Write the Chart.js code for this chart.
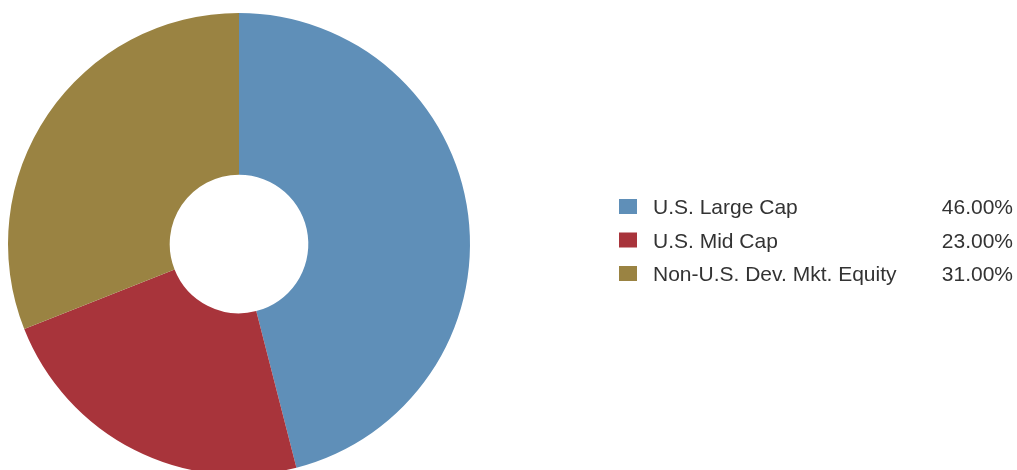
<!DOCTYPE html>
<html>
<head>
<meta charset="utf-8">
<script src="https://cdn.jsdelivr.net/npm/chart.js@4"></script>
<style>
  html, body { margin: 0; padding: 0; background: #fff; overflow: hidden; }
  #wrap { position: relative; width: 1017px; height: 480px; }
</style>
</head>
<body>
<div id="wrap"><canvas id="alloc" width="1017" height="480"></canvas></div>
<script>
const labels = ['U.S. Large Cap', 'U.S. Mid Cap', 'Non-U.S. Dev. Mkt. Equity'];
const weights = [46, 23, 31];
const colors = ['#5f8fb8', '#a8343b', '#9a8342'];

// legend table drawn to the right of the ring
const sideLegend = {
  id: 'sideLegend',
  afterDraw(chart) {
    const ctx = chart.ctx;
    ctx.save();
    ctx.font = '21px "Liberation Sans", Arial, sans-serif';
    ctx.textBaseline = 'alphabetic';
    labels.forEach((lab, i) => {
      const base = 214 + i * 33.5;
      ctx.fillStyle = colors[i];
      ctx.fillRect(619, base - 15, 18, 15);
      ctx.fillStyle = '#333333';
      ctx.textAlign = 'left';
      ctx.fillText(lab, 653, base);
      ctx.textAlign = 'right';
      ctx.fillText(weights[i].toFixed(2) + '%', 1013, base);
    });
    ctx.restore();
  }
};

new Chart(document.getElementById('alloc'), {
  type: 'doughnut',
  data: {
    labels: labels,
    datasets: [{
      data: weights,
      backgroundColor: colors,
      borderWidth: 0,
      hoverOffset: 0
    }]
  },
  options: {
    responsive: false,
    animation: false,
    cutout: '30%',
    layout: { padding: { left: 8, top: 13, right: 547, bottom: 5 } },
    plugins: {
      legend: { display: false },
      tooltip: { enabled: false }
    }
  },
  plugins: [sideLegend]
});
</script>
</body>
</html>
